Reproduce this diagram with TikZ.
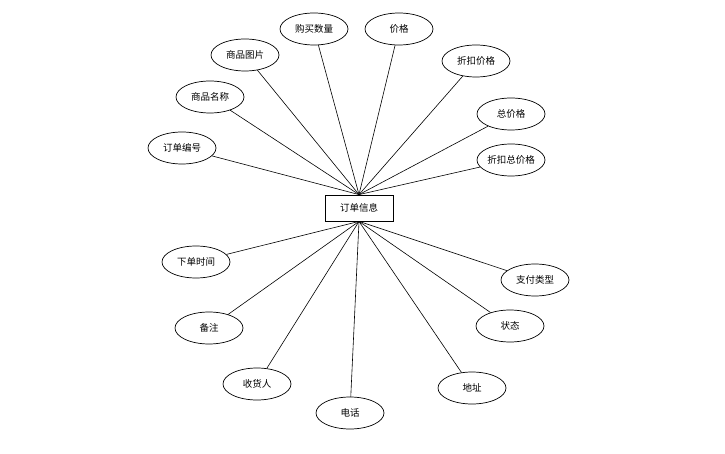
\documentclass[tikz,border=0pt]{standalone}
\usepackage{fontspec}
\usepackage{tikz}
\usetikzlibrary{shapes.geometric}
\setmainfont{Noto Sans CJK SC}

\begin{document}
\begin{tikzpicture}[x=1pt,y=-1pt,
  ent/.style={rectangle,draw=black,fill=white,line width=0.8pt,minimum width=68pt,
    minimum height=26pt,inner sep=0pt},
  attr/.style={ellipse,draw=black,fill=white,line width=0.7pt,minimum width=68pt,
    minimum height=32pt,inner sep=0pt},
  link/.style={black,line width=0.6pt},
  every node/.style={font=\fontsize{9.5}{11}\selectfont}
]
\useasboundingbox (0,0) rectangle (725,454);
\node[ent] (order) at (359,208) {订单信息};

\node[attr] (no) at (182,148) {订单编号};
\node[attr] (gname) at (210,97) {商品名称};
\node[attr] (gpic) at (245,55) {商品图片};
\node[attr] (qty) at (314,29) {购买数量};
\node[attr] (price) at (399,29) {价格};
\node[attr] (dprice) at (476,61) {折扣价格};
\node[attr] (total) at (511,114) {总价格};
\node[attr] (dtotal) at (511,160) {折扣总价格};

\node[attr] (time) at (196,262) {下单时间};
\node[attr] (memo) at (209,328) {备注};
\node[attr] (recv) at (257,384) {收货人};
\node[attr] (tel) at (350,413) {电话};
\node[attr] (addr) at (472,388) {地址};
\node[attr] (state) at (510,326) {状态};
\node[attr] (pay) at (535,280) {支付类型};

\foreach \a in {no,gname,gpic,qty,price,dprice,total,dtotal}
  \draw[link] (\a) -- (order.north);
\foreach \a in {time,memo,recv,tel,addr,state,pay}
  \draw[link] (\a) -- (order.south);
\end{tikzpicture}
\end{document}
